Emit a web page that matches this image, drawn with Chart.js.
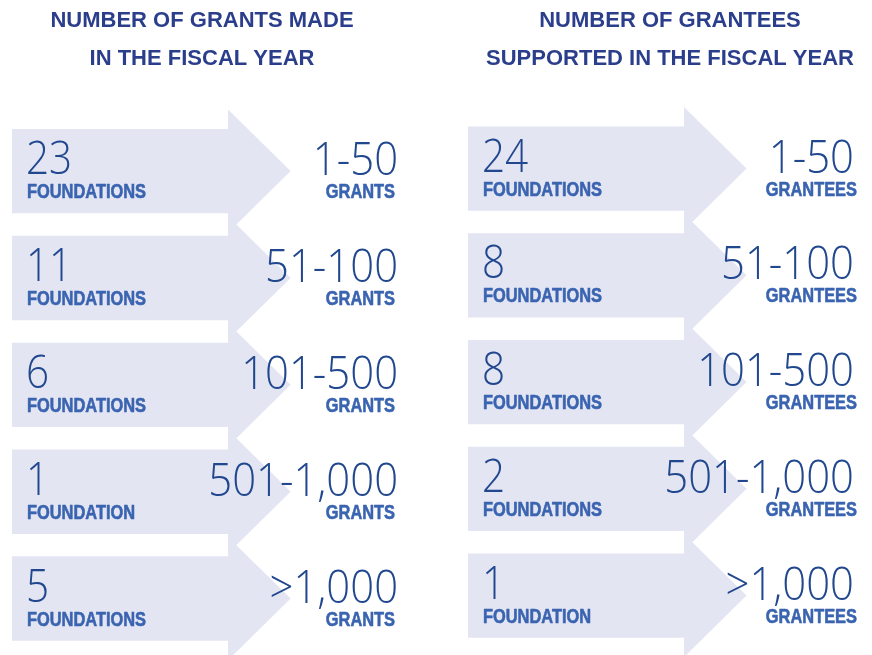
<!DOCTYPE html>
<html>
<head>
<meta charset="utf-8">
<script src="https://cdn.jsdelivr.net/npm/chart.js@4.4.1/dist/chart.umd.min.js"></script>
<style>
  body { margin: 0; background: #fff; }
  .wrap { position: relative; width: 872px; height: 655px; }
  .panel { position: absolute; top: 0; width: 436px; height: 655px; }
  #grantsPanel { left: 0; }
  #granteesPanel { left: 436px; }
</style>
</head>
<body>
<div class="wrap">
  <div class="panel" id="grantsPanel"><canvas id="grantsChart"></canvas></div>
  <div class="panel" id="granteesPanel"><canvas id="granteesChart"></canvas></div>
</div>
<script>
// data
const ranges = ['1-50', '51-100', '101-500', '501-1,000', '>1,000'];
const grantsFoundations = [23, 11, 6, 1, 5];
const granteesFoundations = [24, 8, 8, 2, 1];
const grantsTitle = ['NUMBER OF GRANTS MADE', 'IN THE FISCAL YEAR'];
const granteesTitle = ['NUMBER OF GRANTEES', 'SUPPORTED IN THE FISCAL YEAR'];

// colours
const arrowColor = '#e3e5f3';
const numberColor = '#21488e';
const labelColor = '#3a64b0';
const titleColor = '#2b3e8c';

const numberFont = "300 46px 'Open Sans', 'Noto Sans', sans-serif";
const labelFont = "bold 20px 'Liberation Sans', Arial, sans-serif";

// draw text squeezed horizontally (condensed look), optional stroke to fatten it
function squeezeText(ctx, text, x, y, font, color, align, sx, stroke) {
    ctx.save();
    ctx.translate(x, y);
    ctx.scale(sx, 1);
    ctx.font = font;
    ctx.fillStyle = color;
    ctx.textAlign = align;
    ctx.textBaseline = 'alphabetic';
    ctx.fillText(text, 0, 0);
    if (stroke) {
        ctx.strokeStyle = color;
        ctx.lineWidth = stroke;
        ctx.lineJoin = 'round';
        ctx.strokeText(text, 0, 0);
    }
    ctx.restore();
}

// arrow heads + texts on top of the bars
const arrowPlugin = {
    id: 'arrows',
    afterDatasetsDraw(chart, args, opts) {
        const ctx = chart.ctx;
        const bars = chart.getDatasetMeta(0).data;
        ctx.save();
        ctx.fillStyle = arrowColor;
        bars.forEach(bar => {
            const p = bar.getProps(['x', 'y', 'base', 'height'], true);
            const half = p.height * 0.73;
            ctx.beginPath();
            ctx.moveTo(p.x - 1, p.y - half);
            ctx.lineTo(p.x + half, p.y);
            ctx.lineTo(p.x - 1, p.y + half);
            ctx.closePath();
            ctx.fill();
        });
        bars.forEach((bar, i) => {
            const p = bar.getProps(['x', 'y', 'base', 'height'], true);
            const n = opts.counts[i];
            squeezeText(ctx, String(n), p.base + 14, p.y + 3, numberFont, numberColor, 'left', 0.88);
            squeezeText(ctx, n === 1 ? 'FOUNDATION' : 'FOUNDATIONS', p.base + 15, p.y + 27, labelFont, labelColor, 'left', 0.82, 0.6);
            squeezeText(ctx, ranges[i], p.x + opts.rangeOffset, p.y + 4, numberFont, numberColor, 'right', 0.91);
            squeezeText(ctx, opts.unit, p.x + opts.unitOffset, p.y + 27, labelFont, labelColor, 'right', 0.82, 0.6);
        });
        ctx.restore();
    }
};

function makeChart(id, title, counts, unit, padding, xMax, offsets) {
    return new Chart(document.getElementById(id), {
        type: 'bar',
        data: {
            labels: ranges,
            datasets: [{
                data: ranges.map(() => 1),
                backgroundColor: arrowColor,
                borderWidth: 0,
                categoryPercentage: 1,
                barPercentage: 0.79
            }]
        },
        options: {
            indexAxis: 'y',
            responsive: true,
            maintainAspectRatio: false,
            animation: false,
            layout: { padding: padding },
            plugins: {
                legend: { display: false },
                tooltip: { enabled: false },
                title: {
                    display: true,
                    text: title,
                    color: titleColor,
                    font: { family: "'Liberation Sans', Arial, sans-serif", weight: 'bold', size: 22, lineHeight: 1.72 },
                    padding: { top: 2, bottom: padding.titleGap }
                },
                arrows: { counts: counts, unit: unit, rangeOffset: offsets[0], unitOffset: offsets[1] }
            },
            scales: {
                x: { display: false, min: 0, max: xMax },
                y: { display: false }
            }
        },
        plugins: [arrowPlugin]
    });
}

makeChart('grantsChart', grantsTitle, grantsFoundations, 'GRANTS',
    { left: 12, right: 44, top: 0, bottom: 3, titleGap: 40 }, 1.751, [169, 166]);
makeChart('granteesChart', granteesTitle, granteesFoundations, 'GRANTEES',
    { left: 32, right: 0, top: 0, bottom: 6, titleGap: 37.5 }, 1.862, [169, 172]);
</script>
</body>
</html>
